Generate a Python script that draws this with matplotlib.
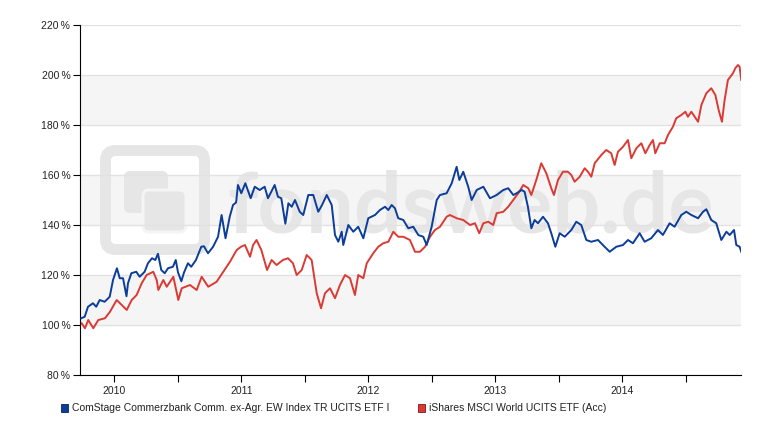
import matplotlib
matplotlib.use("Agg")
import matplotlib.pyplot as plt
import matplotlib.patches as mpatches
import matplotlib.transforms as mtransforms

plt.rcParams['font.family'] = ['Liberation Sans', 'DejaVu Sans']

comstage_t = [2009.740, 2009.767, 2009.793, 2009.832, 2009.858, 2009.885, 2009.924, 2009.964,
              2009.990, 2010.021, 2010.043, 2010.069, 2010.096, 2010.108, 2010.134, 2010.173,
              2010.200, 2010.239, 2010.265, 2010.297, 2010.323, 2010.344, 2010.370, 2010.397,
              2010.423, 2010.462, 2010.484, 2010.502, 2010.528, 2010.549, 2010.580, 2010.606,
              2010.643, 2010.685, 2010.706, 2010.738, 2010.778, 2010.817, 2010.845, 2010.876,
              2010.909, 2010.935, 2010.959, 2010.974, 2011.000, 2011.032, 2011.074, 2011.106,
              2011.145, 2011.184, 2011.210, 2011.263, 2011.289, 2011.315, 2011.347, 2011.371,
              2011.397, 2011.423, 2011.460, 2011.488, 2011.528, 2011.567, 2011.606, 2011.636,
              2011.673, 2011.712, 2011.738, 2011.764, 2011.791, 2011.803, 2011.843, 2011.882,
              2011.921, 2011.961, 2012.000, 2012.053, 2012.092, 2012.132, 2012.158, 2012.184,
              2012.210, 2012.236, 2012.276, 2012.315, 2012.354, 2012.394, 2012.433, 2012.460,
              2012.499, 2012.539, 2012.565, 2012.617, 2012.657, 2012.696, 2012.717, 2012.748,
              2012.787, 2012.814, 2012.854, 2012.906, 2012.958, 2013.011, 2013.063, 2013.102,
              2013.142, 2013.168, 2013.208, 2013.231, 2013.257, 2013.284, 2013.310, 2013.336,
              2013.376, 2013.415, 2013.441, 2013.473, 2013.507, 2013.547, 2013.599, 2013.638,
              2013.677, 2013.717, 2013.756, 2013.809, 2013.861, 2013.901, 2013.953, 2014.006,
              2014.045, 2014.084, 2014.137, 2014.176, 2014.228, 2014.281, 2014.320, 2014.373,
              2014.412, 2014.465, 2014.504, 2014.544, 2014.597, 2014.636, 2014.662, 2014.701,
              2014.740, 2014.780, 2014.820, 2014.846, 2014.880, 2014.898, 2014.924, 2014.937]
comstage_v = [102.7, 103.3, 107.3, 108.7, 107.3, 110.0, 109.3, 111.3,
              118.0, 122.7, 118.7, 118.7, 111.5, 116.7, 120.7, 121.3,
              119.3, 121.3, 124.7, 126.7, 126.0, 128.5, 122.0, 120.7,
              122.7, 123.3, 126.0, 121.0, 117.5, 121.0, 124.7, 123.3,
              126.0, 131.3, 131.5, 128.7, 131.3, 135.3, 144.0, 134.7,
              143.3, 148.0, 149.0, 156.0, 152.7, 156.7, 150.7, 155.3,
              154.0, 155.3, 150.7, 156.0, 151.3, 150.7, 140.5, 148.7,
              147.3, 150.0, 145.3, 144.0, 152.0, 152.0, 145.3, 148.0,
              152.0, 148.0, 136.0, 133.3, 137.3, 132.0, 140.0, 137.3,
              139.3, 134.7, 142.7, 144.0, 146.0, 147.3, 146.0, 148.0,
              146.7, 142.7, 142.0, 138.7, 139.3, 136.0, 135.3, 132.0,
              139.3, 150.0, 152.0, 152.7, 156.7, 163.3, 158.0, 161.3,
              155.3, 150.0, 154.0, 155.3, 150.7, 152.0, 154.0, 154.7,
              152.0, 152.7, 154.0, 153.3, 147.3, 138.7, 142.0, 140.7,
              143.3, 140.7, 136.7, 131.3, 136.7, 135.3, 138.0, 141.3,
              140.0, 134.0, 133.3, 134.0, 131.3, 129.3, 131.3, 132.0,
              134.0, 132.7, 136.7, 133.3, 134.7, 138.0, 136.0, 140.7,
              139.3, 144.0, 145.3, 144.0, 142.7, 145.3, 146.3, 142.0,
              140.7, 134.0, 137.3, 136.0, 138.0, 132.0, 131.3, 129.3]

ishares_t = [2009.743, 2009.769, 2009.795, 2009.835, 2009.874, 2009.927, 2009.966, 2010.019,
             2010.058, 2010.098, 2010.137, 2010.176, 2010.216, 2010.255, 2010.307, 2010.334,
             2010.347, 2010.386, 2010.413, 2010.465, 2010.504, 2010.531, 2010.596, 2010.649,
             2010.688, 2010.740, 2010.806, 2010.858, 2010.911, 2010.964, 2010.998, 2011.029,
             2011.069, 2011.093, 2011.120, 2011.158, 2011.203, 2011.239, 2011.278, 2011.328,
             2011.368, 2011.407, 2011.436, 2011.476, 2011.515, 2011.554, 2011.594, 2011.628,
             2011.659, 2011.699, 2011.738, 2011.777, 2011.817, 2011.856, 2011.895, 2011.921,
             2011.961, 2011.988, 2012.039, 2012.079, 2012.118, 2012.158, 2012.197, 2012.236,
             2012.276, 2012.328, 2012.368, 2012.407, 2012.447, 2012.486, 2012.525, 2012.565,
             2012.617, 2012.643, 2012.696, 2012.748, 2012.801, 2012.840, 2012.874, 2012.906,
             2012.945, 2012.984, 2013.011, 2013.063, 2013.102, 2013.142, 2013.181, 2013.221,
             2013.260, 2013.284, 2013.323, 2013.362, 2013.402, 2013.441, 2013.462, 2013.494,
             2013.533, 2013.572, 2013.599, 2013.625, 2013.665, 2013.704, 2013.730, 2013.756,
             2013.783, 2013.835, 2013.874, 2013.913, 2013.940, 2013.966, 2014.006, 2014.045,
             2014.071, 2014.111, 2014.150, 2014.182, 2014.216, 2014.242, 2014.260, 2014.295,
             2014.334, 2014.360, 2014.399, 2014.425, 2014.465, 2014.497, 2014.517, 2014.544,
             2014.570, 2014.597, 2014.623, 2014.662, 2014.701, 2014.733, 2014.759, 2014.785,
             2014.806, 2014.832, 2014.872, 2014.890, 2014.911, 2014.924, 2014.937]
ishares_v = [100.7, 98.7, 102.0, 98.7, 102.0, 102.7, 105.3, 110.0,
             108.0, 106.0, 110.0, 112.0, 116.7, 120.0, 121.3, 118.0,
             114.0, 118.0, 115.3, 119.3, 110.0, 114.7, 116.0, 114.0,
             119.3, 115.3, 117.3, 121.3, 125.3, 130.0, 131.3, 132.0,
             127.3, 132.0, 134.0, 130.0, 122.0, 126.0, 124.0, 126.0,
             126.7, 124.7, 120.0, 122.0, 128.0, 126.0, 112.7, 106.7,
             112.7, 114.7, 110.7, 116.0, 120.0, 118.7, 112.0, 120.0,
             118.7, 124.7, 128.7, 131.3, 132.7, 133.3, 137.3, 135.3,
             135.3, 134.0, 129.3, 129.3, 131.3, 135.3, 138.0, 139.3,
             143.3, 144.0, 142.7, 142.0, 140.0, 140.7, 136.7, 140.7,
             141.3, 140.0, 144.7, 145.3, 147.3, 150.0, 152.7, 156.0,
             154.7, 152.0, 158.0, 164.7, 160.7, 154.7, 152.0, 158.0,
             161.3, 161.3, 160.0, 157.3, 159.3, 162.7, 161.3, 159.3,
             164.7, 168.0, 170.0, 168.7, 164.0, 169.3, 171.3, 174.0,
             166.7, 170.7, 172.7, 168.7, 172.0, 174.0, 168.7, 172.7,
             172.7, 176.0, 179.3, 182.7, 184.0, 185.3, 183.3, 185.3,
             183.3, 181.3, 188.0, 192.7, 194.7, 192.0, 186.0, 181.3,
             190.0, 198.0, 200.7, 202.7, 204.0, 203.3, 198.0]

labels = ['ComStage Commerzbank Comm. ex-Agr. EW Index TR UCITS ETF I',
          'iShares MSCI World UCITS ETF (Acc)']
years = [2010, 2011, 2012, 2013, 2014]
y_ticks = [80, 100, 120, 140, 160, 180, 200, 220]

blue = '#0b3d99'
red = '#db3a34'
band = '#f5f5f5'
wm = '#e6e6e6'

W, H = 775, 440
fig = plt.figure(figsize=(W / 100, H / 100), dpi=100)
ax = fig.add_axes([80 / W, 65 / H, 661 / W, 350 / H])
# Pixel-Koordinaten (Ursprung oben links)
px = mtransforms.Affine2D().scale(1, -1).translate(0, H)

# graue Baender
for lo in (100, 140, 180):
    ax.axhspan(lo, lo + 20, color=band, lw=0, zorder=0.1)

# Wasserzeichen
ax.text(227, 232, 'fondsweb.de', transform=px, fontfamily=['Lato', 'DejaVu Sans'],
        fontweight='bold', fontsize=61, color=wm, ha='left', va='baseline', zorder=0.2)
ax.add_patch(mpatches.FancyBboxPatch((105.5, 150.5), 99, 99, boxstyle='round,pad=0,rounding_size=10',
                                     fill=False, ec=wm, lw=11 * 0.72, transform=px, zorder=0.2))
ax.add_patch(mpatches.FancyBboxPatch((124, 171), 44, 42, boxstyle='round,pad=0,rounding_size=6',
                                     fc=wm, lw=0, transform=px, zorder=0.2))
ax.add_patch(mpatches.FancyBboxPatch((143, 190), 43, 42, boxstyle='round,pad=0,rounding_size=6',
                                     fc=wm, ec=band, lw=3 * 0.72, transform=px, zorder=0.21))

ax.plot(comstage_t, comstage_v, color=blue, lw=1.4, zorder=3)
ax.plot(ishares_t, ishares_v, color=red, lw=1.4, zorder=2.5)

ax.set_xlim(2009.73, 2014.935)
ax.set_ylim(80, 220)
ax.set_xticks(years)
ax.set_xticklabels([str(y) for y in years])
ax.set_xticks([y + 0.5 for y in years], minor=True)
ax.set_yticks(y_ticks)
ax.set_yticklabels([f'{v}\u2009%' for v in y_ticks])

ax.set_axisbelow(True)
ax.yaxis.grid(True, color='#e2e2e2', lw=1)
for s in ('top', 'right'):
    ax.spines[s].set_visible(False)
for s in ('left', 'bottom'):
    ax.spines[s].set_color('black')
    ax.spines[s].set_linewidth(0.8)
ax.tick_params(axis='both', which='both', length=5, width=0.8, color='black',
               labelsize=7.5, labelcolor='#222222')
ax.tick_params(axis='x', pad=3)
ax.tick_params(axis='y', pad=2)

# Legende unten
for (x0, lab, col, ec) in [(61, labels[0], blue, '#06245c'), (418, labels[1], red, '#7a1a16')]:
    fig.patches.append(mpatches.Rectangle((x0, 404), 7, 8, fc=col, ec=ec, lw=0.6,
                                          transform=px, figure=fig))
    fig.text(x0 + 11, 408, lab, transform=px, fontsize=7.5, color='#222222',
             ha='left', va='center')

fig.savefig('out.png', dpi=100)
